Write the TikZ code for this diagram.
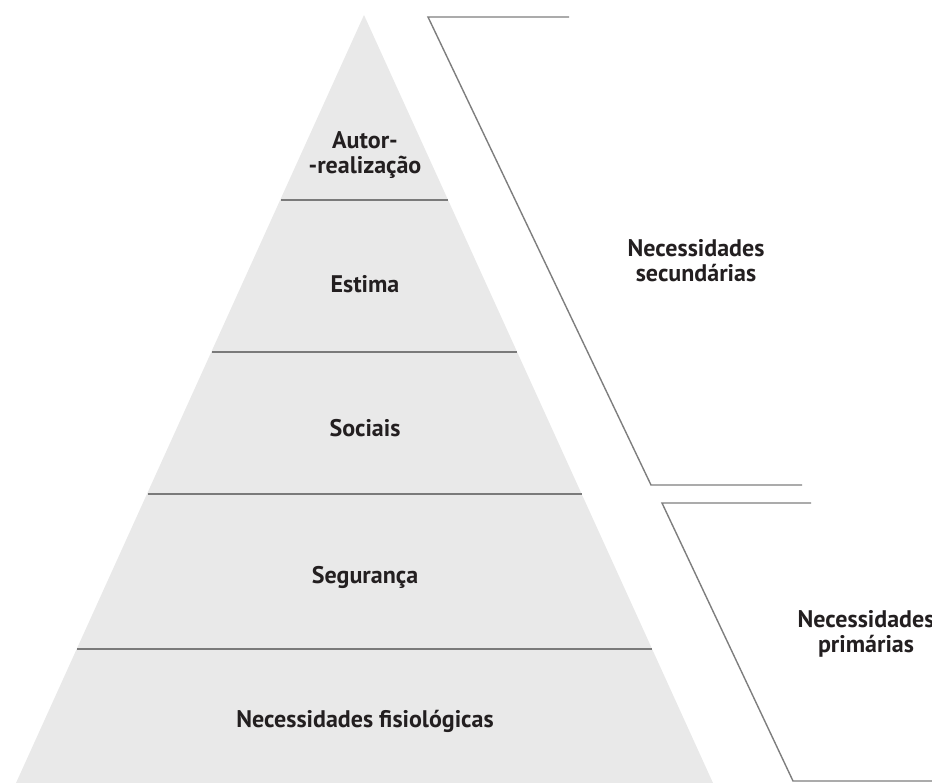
\documentclass[tikz,border=0pt]{standalone}
\usepackage{fontspec}
\setmainfont{PT Sans}
\begin{document}
\begin{tikzpicture}[x=1pt,y=-1pt,
  lvl/.style={font=\fontsize{24}{25}\selectfont\bfseries, text=txt, align=center, inner sep=0pt},
  divider/.style={draw=divgray, line width=2.2pt},
  bracket/.style={draw=brgray, line width=1.4pt}]
\definecolor{pyrfill}{HTML}{E9E9E9}
\definecolor{divgray}{HTML}{7A7A7A}
\definecolor{brgray}{HTML}{7E7E7E}
\definecolor{txt}{HTML}{231F20}
\useasboundingbox (0,0) rectangle (932,783);
\clip (0,0) rectangle (932,783);
% pyramid
\coordinate (apex) at (364,15);
\coordinate (bl) at (16,783);
\coordinate (br) at (713,783);
\fill[pyrfill] (apex) -- (bl) -- (br) -- cycle;
% dividers
\draw[divider] (281,200) -- (448,200);
\draw[divider] (212,352) -- (517,352);
\draw[divider] (148,494) -- (582,494);
\draw[divider] (77,649) -- (652,649);
% labels
\node[lvl] (l5) at (365,155) {Autor-\\-realização};
\node[lvl] (l4) at (365,284) {Estima};
\node[lvl] (l3) at (365,428) {Sociais};
\node[lvl] (l2) at (365,577) {Segurança};
\node[lvl] (l1) at (365,721) {Necessidades fisiológicas};
% brackets
\coordinate (b1a) at (569,17);
\coordinate (b1b) at (428,17);
\coordinate (b1c) at (651,485);
\coordinate (b1d) at (802,485);
\draw[bracket, line join=miter] (b1a) -- (b1b) -- (b1c) -- (b1d);
\coordinate (b2a) at (811,503);
\coordinate (b2b) at (662,503);
\coordinate (b2c) at (793,781);
\coordinate (b2d) at (935,781);
\draw[bracket, line join=miter] (b2a) -- (b2b) -- (b2c) -- (b2d);
\node[lvl] (sec) at (696,261) {Necessidades\\secundárias};
\node[lvl] (pri) at (866,634) {Necessidades\\primárias};
\end{tikzpicture}
\end{document}
